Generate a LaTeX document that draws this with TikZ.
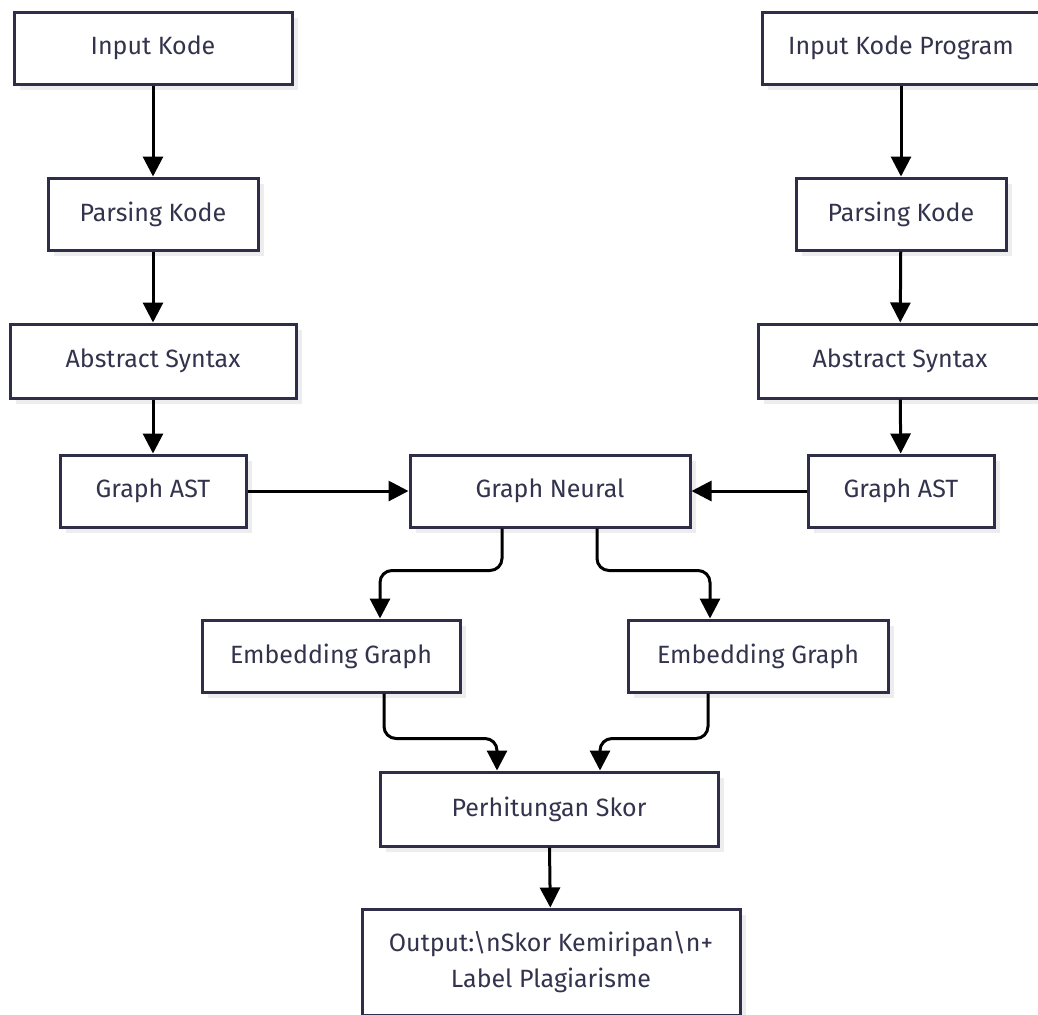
\documentclass[tikz,border=0pt]{standalone}
\usepackage{fontspec}
\setmainfont{Fira Sans}
\usepackage{tikz}
\usetikzlibrary{arrows.meta,positioning,calc,shadows}
\definecolor{boxline}{HTML}{2E2E48}
\definecolor{boxtext}{HTML}{33334D}
\tikzset{
    diagramblock/.style={draw=boxline, line width=1.5pt, fill=white, align=center, font=\fontsize{12.5}{18}\selectfont, text=boxtext, minimum height=36pt, inner sep=0pt,
        drop shadow={shadow xshift=3pt, shadow yshift=-3pt, fill=black!7, opacity=1}},
    diagramarrow/.style={-{Triangle[length=10pt, width=10pt]}, line width=1.5pt, black},
    diagrambend/.style={diagramarrow, rounded corners=6pt}
}

\begin{document}
\begin{tikzpicture}[x=0.5pt, y=-0.5pt]
        \useasboundingbox (0,0) rectangle (1038,1014);
        \clip (0,0) rectangle (1038,1014);
        % left column
        \node[diagramblock, minimum width=139pt] (inputL) at (153,48) {Input Kode};
        \node[diagramblock, minimum width=105pt] (parseL) at (153,214) {Parsing Kode};
        \node[diagramblock, minimum width=143pt, minimum height=37pt] (astL) at (153,361) {Abstract Syntax};
        \node[diagramblock, minimum width=93pt] (graphL) at (153,491) {Graph AST};
        % right column
        \node[diagramblock, minimum width=139pt] (inputR) at (901,48) {Input Kode Program};
        \node[diagramblock, minimum width=105pt] (parseR) at (901,214) {Parsing Kode};
        \node[diagramblock, minimum width=142pt, minimum height=37pt] (astR) at (900,361) {Abstract Syntax};
        \node[diagramblock, minimum width=93pt] (graphR) at (901,491) {Graph AST};
        % middle
        \node[diagramblock, minimum width=140pt] (gnn) at (550,491) {Graph Neural};
        \node[diagramblock, minimum width=129pt] (embedL) at (331,656) {Embedding Graph};
        \node[diagramblock, minimum width=130pt] (embedR) at (758,656) {Embedding Graph};
        \node[diagramblock, minimum width=169pt, minimum height=37pt] (score) at (549,809) {Perhitungan Skor};
        \node[diagramblock, minimum width=189pt, minimum height=53pt] (result) at (551,962) {Output:\textbackslash{}nSkor Kemiripan\textbackslash{}n+\\Label Plagiarisme};
        \draw[diagramarrow] (inputL) -- (parseL);
        \draw[diagramarrow] (parseL) -- (astL);
        \draw[diagramarrow] (astL) -- (graphL);
        \draw[diagramarrow] (inputR) -- (parseR);
        \draw[diagramarrow] (parseR) -- (astR);
        \draw[diagramarrow] (astR) -- (graphR);
        \draw[diagramarrow] (graphL) -- (gnn);
        \draw[diagramarrow] (graphR) -- (gnn);
        \draw[diagrambend] ($(gnn.south)+(-48,0)$) |- ($(embedL.north)+(49,-48)$) -- ($(embedL.north)+(49,0)$);
        \draw[diagrambend] ($(gnn.south)+(47,0)$) |- ($(embedR.north)+(-48,-48)$) -- ($(embedR.north)+(-48,0)$);
        \draw[diagrambend] ($(embedL.south)+(53,0)$) |- ($(score.north)+(-52,-32)$) -- ($(score.north)+(-52,0)$);
        \draw[diagrambend] ($(embedR.south)+(-50,0)$) |- ($(score.north)+(51,-32)$) -- ($(score.north)+(51,0)$);
        \draw[diagramarrow] (score) -- (result);
    \end{tikzpicture}
\end{document}
